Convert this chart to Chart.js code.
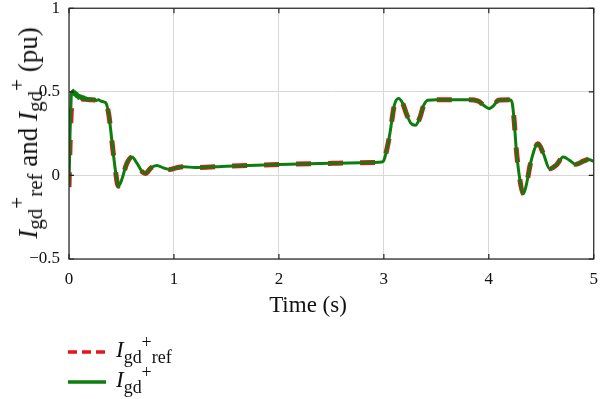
<!DOCTYPE html>
<html><head><meta charset="utf-8">
<script src="https://cdn.jsdelivr.net/npm/chart.js@4"></script>
<style>
html,body{margin:0;padding:0;background:#fff;}
#wrap{position:relative;width:600px;height:399px;font-family:"Liberation Serif","DejaVu Serif",serif;color:#111;overflow:hidden;}
#c{position:absolute;left:0;top:-8px;}
#ytitle{position:absolute;left:28px;top:133px;height:30px;line-height:30px;transform:translate(-50%,-50%) rotate(-90deg);white-space:nowrap;font-size:27px;}
#xtitle{position:absolute;left:308px;top:305px;transform:translate(-50%,-50%);white-space:nowrap;font-size:23px;}
.it{font-style:italic;}
sub,sup{font-size:0.78em;line-height:0;}
#ytitle sup{vertical-align:0.6em;}
#ytitle sub{vertical-align:-0.25em;}
.leg{position:absolute;left:66px;font-size:23px;white-space:nowrap;}
.leg svg{vertical-align:middle;margin-right:10px;}
</style></head>
<body><div id="wrap">
<canvas id="c" width="608" height="408"></canvas>
<div id="ytitle"><span class="it">I</span><sub>gd</sub><sup>+</sup><sub>ref</sub> and <span class="it">I</span><sub>gd</sub><sup>+</sup> (pu)</div>
<div id="xtitle"></div>
<div class="leg" style="top:337px"><svg width="40" height="8"><line x1="2" y1="4" x2="40" y2="4" stroke="#e8141b" stroke-width="3.5" stroke-dasharray="9,5"/></svg><span class="it">I</span><sub>gd</sub><sup>+</sup><sub>ref</sub></div>
<div class="leg" style="top:367px"><svg width="40" height="8"><line x1="2" y1="4" x2="40" y2="4" stroke="#0d7d0d" stroke-width="3.5"/></svg><span class="it">I</span><sub>gd</sub><sup>+</sup></div>
</div>
<script>
const time = [0,0.01,0.02,0.025,0.03,0.04,0.05,0.06,0.07,0.08,0.09,0.10,0.11,0.12,0.13,0.14,0.15,0.16,0.17,0.18,0.19,0.20,0.22,0.24,0.26,0.28,0.30,0.33,0.35,0.38,0.41,0.44,0.47,0.50,0.55,0.60,0.65,0.70,0.73,0.78,0.835,0.9,0.96,1.02,1.09,1.2,1.5,2.0,2.5,2.9,2.98,3.0,3.03,3.06,3.1,3.14,3.18,3.22,3.26,3.3,3.34,3.38,3.42,3.5,3.8,3.9,3.95,4.0,4.05,4.09,4.2,4.22,4.24,4.26,4.29,4.33,4.36,4.4,4.47,4.52,4.58,4.64,4.71,4.77,4.83,4.9,4.95,5.0];
const igd = [-0.07,0.25,0.45,0.50,0.49,0.51,0.48,0.50,0.47,0.49,0.46,0.48,0.46,0.475,0.455,0.47,0.455,0.465,0.45,0.46,0.45,0.458,0.452,0.456,0.448,0.452,0.446,0.44,0.435,0.36,0.20,0.04,-0.065,-0.03,0.07,0.11,0.07,0.02,0.012,0.045,0.06,0.045,0.036,0.045,0.052,0.047,0.055,0.065,0.072,0.077,0.08,0.09,0.16,0.26,0.42,0.46,0.43,0.36,0.31,0.30,0.34,0.42,0.45,0.452,0.452,0.445,0.42,0.40,0.42,0.45,0.452,0.44,0.34,0.17,0.0,-0.11,-0.05,0.08,0.19,0.13,0.04,0.06,0.11,0.09,0.066,0.085,0.095,0.085];
const igdRef = [-0.07,0.18,0.36,0.41,0.44,0.455,0.46,0.46,0.46,0.46,0.46,0.46,0.458,0.458,0.456,0.456,0.455,0.455,0.454,0.454,0.453,0.453,0.452,0.451,0.45,0.449,0.447,0.44,0.435,0.36,0.20,0.04,-0.065,-0.03,0.07,0.11,0.07,0.02,0.012,0.045,0.06,0.045,0.036,0.045,0.052,0.047,0.055,0.065,0.072,0.077,0.08,0.09,0.16,0.26,0.42,0.46,0.43,0.36,0.31,0.30,0.34,0.42,0.45,0.452,0.452,0.445,0.42,0.40,0.42,0.45,0.452,0.44,0.34,0.17,0.0,-0.11,-0.05,0.08,0.19,0.13,0.04,0.06,0.11,0.09,0.066,0.085,0.095,0.085];
const xTicks = [0,1,2,3,4,5];
const yTicks = [-0.5,0,0.5,1];
const xTitle = 'Time (s)';
document.getElementById('xtitle').textContent = xTitle;

const toPts = (ys) => time.map((t,i)=>({x:t,y:ys[i]}));
const font = {family:'"Liberation Serif","DejaVu Serif",serif', size:17};
const yFont = {family:'"Liberation Serif","DejaVu Serif",serif', size:17, lineHeight:0.85};

const boxPlugin = {
  id:'box',
  afterDraw(chart){
    const {ctx, chartArea:a, scales:{x,y}} = chart;
    ctx.save();
    ctx.strokeStyle='#222'; ctx.lineWidth=1.2;
    ctx.strokeRect(a.left, a.top, a.right-a.left, a.bottom-a.top);
    ctx.beginPath();
    xTicks.forEach(v=>{const px=x.getPixelForValue(v); ctx.moveTo(px,a.bottom); ctx.lineTo(px,a.bottom-5); ctx.moveTo(px,a.top); ctx.lineTo(px,a.top+5);});
    yTicks.forEach(v=>{const py=y.getPixelForValue(v); ctx.moveTo(a.left,py); ctx.lineTo(a.left+5,py); ctx.moveTo(a.right,py); ctx.lineTo(a.right-5,py);});
    ctx.stroke();
    ctx.restore();
  }
};

new Chart(document.getElementById('c'), {
  type:'line',
  data:{datasets:[
    {label:'Igd+', data:toPts(igd), borderColor:'#0d7d0d', borderWidth:3, pointRadius:0, cubicInterpolationMode:'monotone', order:0},
    {label:'Igd+ref', data:toPts(igdRef), borderColor:'#e8141b', borderWidth:5, borderDash:[15,17], pointRadius:0, cubicInterpolationMode:'monotone', order:1}
  ]},
  options:{
    responsive:false, animation:false,
    layout:{padding:{left:0,top:0,right:1,bottom:111}},
    plugins:{legend:{display:false}, tooltip:{enabled:false}},
    scales:{
      x:{type:'linear', min:0, max:5,
        afterBuildTicks:(s)=>{s.ticks=xTicks.map(v=>({value:v}));},
        afterFit:(s)=>{s.height=30;},
        grid:{color:'#d8d8d8', lineWidth:1, drawTicks:false},
        border:{display:false},
        ticks:{font, color:'#111', padding:10, maxRotation:0}
      },
      y:{type:'linear', min:-0.5, max:1,
        afterBuildTicks:(s)=>{s.ticks=yTicks.map(v=>({value:v}));},
        afterFit:(s)=>{s.width=69;},
        grid:{color:'#d8d8d8', lineWidth:1, drawTicks:false},
        border:{display:false},
        ticks:{font:yFont, color:'#111', padding:9, callback:(v)=>String(v).replace('-','\u2212')}
      }
    }
  },
  plugins:[boxPlugin]
});
</script>
</body></html>
